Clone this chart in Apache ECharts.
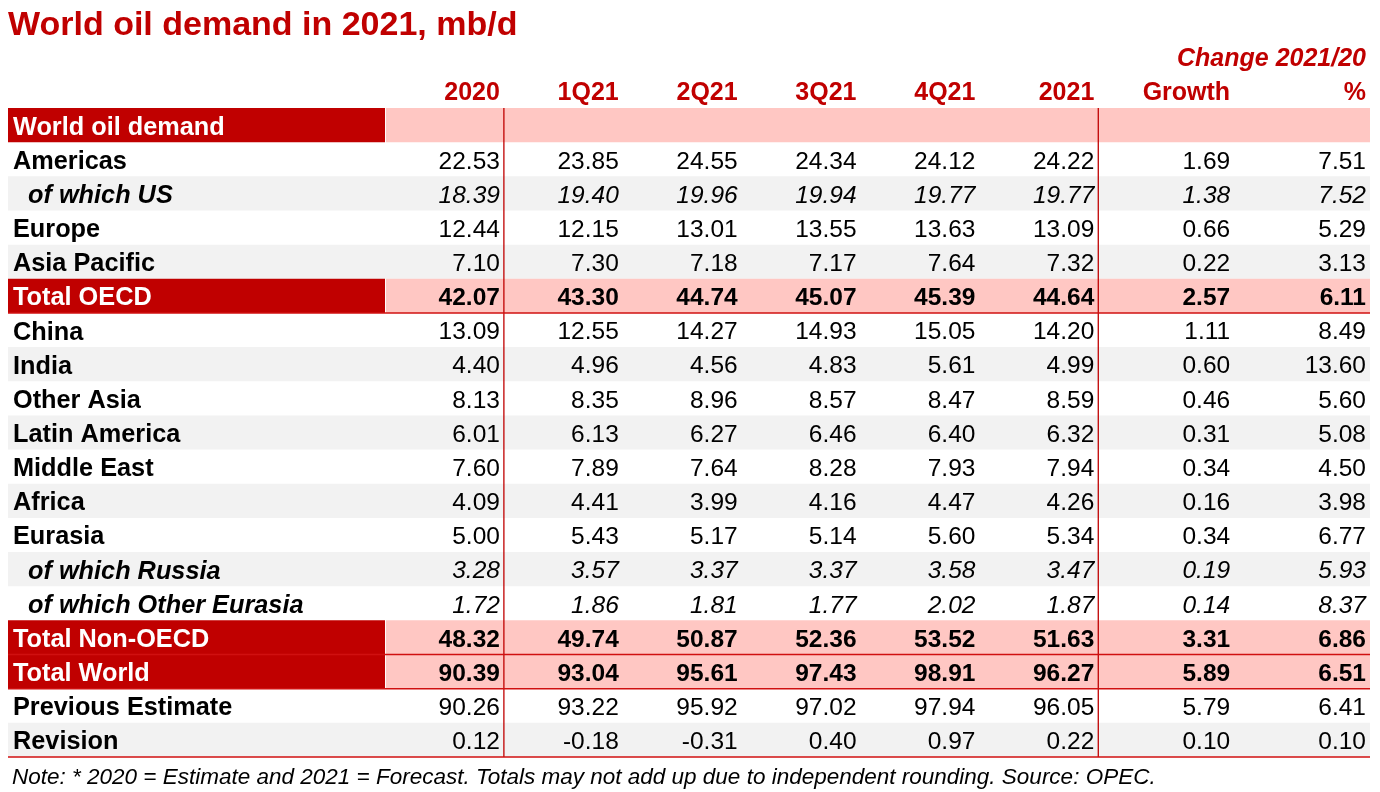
<!DOCTYPE html>
<html><head><meta charset="utf-8">
<script src="https://cdn.jsdelivr.net/npm/echarts@6/dist/echarts.min.js"></script>
<style>html,body{margin:0;padding:0;background:#fff}#chart{width:1380px;height:792px}</style>
</head><body><div id="chart"></div>
<script>
// ---------------- data ----------------
const titleText = 'World oil demand in 2021, mb/d';
const noteText = 'Note: * 2020 = Estimate and 2021 = Forecast. Totals may not add up due to independent rounding. Source: OPEC.';
const changeHeader = 'Change 2021/20';
const columns = ['2020', '1Q21', '2Q21', '3Q21', '4Q21', '2021', 'Growth', '%'];
const rowLabels = ['World oil demand', 'Americas', 'of which US', 'Europe', 'Asia Pacific', 'Total OECD',
  'China', 'India', 'Other Asia', 'Latin America', 'Middle East', 'Africa', 'Eurasia',
  'of which Russia', 'of which Other Eurasia', 'Total Non-OECD', 'Total World', 'Previous Estimate', 'Revision'];
const rowKinds = ['section', 'normal', 'sub', 'normal', 'normal', 'total',
  'normal', 'normal', 'normal', 'normal', 'normal', 'normal', 'normal',
  'sub', 'sub', 'total', 'total', 'normal', 'normal'];
const y2020 = [null, 22.53, 18.39, 12.44, 7.10, 42.07, 13.09, 4.40, 8.13, 6.01, 7.60, 4.09, 5.00, 3.28, 1.72, 48.32, 90.39, 90.26, 0.12];
const q1_21 = [null, 23.85, 19.40, 12.15, 7.30, 43.30, 12.55, 4.96, 8.35, 6.13, 7.89, 4.41, 5.43, 3.57, 1.86, 49.74, 93.04, 93.22, -0.18];
const q2_21 = [null, 24.55, 19.96, 13.01, 7.18, 44.74, 14.27, 4.56, 8.96, 6.27, 7.64, 3.99, 5.17, 3.37, 1.81, 50.87, 95.61, 95.92, -0.31];
const q3_21 = [null, 24.34, 19.94, 13.55, 7.17, 45.07, 14.93, 4.83, 8.57, 6.46, 8.28, 4.16, 5.14, 3.37, 1.77, 52.36, 97.43, 97.02, 0.40];
const q4_21 = [null, 24.12, 19.77, 13.63, 7.64, 45.39, 15.05, 5.61, 8.47, 6.40, 7.93, 4.47, 5.60, 3.58, 2.02, 53.52, 98.91, 97.94, 0.97];
const y2021 = [null, 24.22, 19.77, 13.09, 7.32, 44.64, 14.20, 4.99, 8.59, 6.32, 7.94, 4.26, 5.34, 3.47, 1.87, 51.63, 96.27, 96.05, 0.22];
const growth = [null, 1.69, 1.38, 0.66, 0.22, 2.57, 1.11, 0.60, 0.46, 0.31, 0.34, 0.16, 0.34, 0.19, 0.14, 3.31, 5.89, 5.79, 0.10];
const pctChange = [null, 7.51, 7.52, 5.29, 3.13, 6.11, 8.49, 13.60, 5.60, 5.08, 4.50, 3.98, 6.77, 5.93, 8.37, 6.86, 6.51, 6.41, 0.10];
const columnValues = [y2020, q1_21, q2_21, q3_21, q4_21, y2021, growth, pctChange];

// ---------------- layout ----------------
const LABEL_UNITS = 22.2;
const COL_UNITS = [7, 7, 7, 7, 7, 7, 8, 8];
const colRight = [];
COL_UNITS.reduce((acc, w, i) => { colRight[i] = acc + w; return acc + w; }, 0);
const TOTAL_UNITS = colRight[colRight.length - 1];
const HEADER_ROWS = 2;
const TEXT_DY = 2.5;
const RED = '#c00000';
const PINK = '#ffc7c3';
const GREY = '#f2f2f2';
const FF = '"Liberation Sans", Arial, Helvetica, sans-serif';

// zebra banding restarts after every highlighted (section / total) row
const banded = [];
let runIdx = 0;
rowKinds.forEach((k, i) => {
  if (k === 'section' || k === 'total') { banded[i] = false; runIdx = 0; }
  else { runIdx++; banded[i] = runIdx % 2 === 0; }
});

const cellData = [];
columnValues.forEach((arr, c) => arr.forEach((v, r) => { if (v !== null) cellData.push([c, r, v]); }));

function txt(text, x, y, font, fill, align) {
  return { type: 'text', style: { text, x, y: y + TEXT_DY, font, fill, align, verticalAlign: 'middle', textAlign: align, textVerticalAlign: 'middle' } };
}

const chart = echarts.init(document.getElementById('chart'), null, { renderer: 'canvas' });
chart.setOption({
  animation: false,
  backgroundColor: '#fff',
  title: [
    { text: titleText, left: 8, top: 9, padding: 0,
      textStyle: { fontFamily: FF, fontSize: 34, fontWeight: 'bold', color: RED } },
    { text: noteText, left: 12, top: 766, padding: 0,
      textStyle: { fontFamily: FF, fontSize: 22.5, fontStyle: 'italic', fontWeight: 'normal', color: '#000' } }
  ],
  grid: { left: 8, right: 10, top: 39.7, bottom: 35, containLabel: false },
  xAxis: { type: 'value', min: -LABEL_UNITS, max: TOTAL_UNITS, show: false },
  yAxis: { type: 'value', min: 0, max: rowLabels.length + HEADER_ROWS, inverse: true, show: false },
  series: [
    { // row backgrounds
      type: 'custom', z: 1, silent: true,
      data: rowLabels.map((_, i) => [i]),
      renderItem(params, api) {
        const i = api.value(0);
        const r = i + HEADER_ROWS;
        const p0 = api.coord([-LABEL_UNITS, r]);
        const pm = api.coord([0, r + 1]);
        const p1 = api.coord([TOTAL_UNITS, r + 1]);
        const kind = rowKinds[i];
        const children = [];
        if (kind === 'section' || kind === 'total') {
          children.push({ type: 'rect', shape: { x: p0[0], y: p0[1], width: pm[0] - p0[0], height: pm[1] - p0[1] }, style: { fill: RED } });
          children.push({ type: 'rect', shape: { x: pm[0] + 1, y: p0[1], width: p1[0] - pm[0] - 1, height: p1[1] - p0[1] }, style: { fill: PINK } });
        } else if (banded[i]) {
          children.push({ type: 'rect', shape: { x: p0[0], y: p0[1], width: p1[0] - p0[0], height: p1[1] - p0[1] }, style: { fill: GREY } });
        }
        return { type: 'group', children };
      }
    },
    { // rule lines
      type: 'custom', z: 3, silent: true,
      data: [[0]],
      renderItem(params, api) {
        const children = [];
        const top = HEADER_ROWS, bottom = HEADER_ROWS + rowLabels.length;
        [colRight[0], colRight[5]].forEach(u => {
          const a = api.coord([u, top]), b = api.coord([u, bottom]);
          children.push({ type: 'line', shape: { x1: a[0], y1: a[1], x2: b[0], y2: b[1] }, style: { stroke: RED, lineWidth: 1.3 } });
        });
        const hRows = [];
        rowKinds.forEach((k, i) => { if (k === 'total') hRows.push(i + 1 + HEADER_ROWS); });
        hRows.push(bottom);
        hRows.forEach(r => {
          const a = api.coord([-LABEL_UNITS, r]), b = api.coord([TOTAL_UNITS, r]);
          children.push({ type: 'line', shape: { x1: a[0], y1: a[1], x2: b[0], y2: b[1] }, style: { stroke: '#d01010', lineWidth: 1.6 } });
        });
        return { type: 'group', children };
      }
    },
    { // row labels
      type: 'custom', z: 4, silent: true,
      data: rowLabels.map((_, i) => [i]),
      renderItem(params, api) {
        const i = api.value(0);
        const p = api.coord([-LABEL_UNITS, i + HEADER_ROWS + 0.5]);
        const kind = rowKinds[i];
        const white = kind === 'section' || kind === 'total';
        const font = (kind === 'sub' ? 'italic ' : '') + 'bold 25.3px ' + FF;
        return txt(rowLabels[i], p[0] + (kind === 'sub' ? 20 : 5), p[1], font, white ? '#fff' : '#000', 'left');
      }
    },
    { // column headers
      type: 'custom', z: 4, silent: true,
      data: columns.map((_, c) => [c]),
      renderItem(params, api) {
        const c = api.value(0);
        const p = api.coord([colRight[c], 1.5]);
        const children = [txt(columns[c], p[0] - 4, p[1], 'bold 25px ' + FF, RED, 'right')];
        if (c === columns.length - 1) {
          const q = api.coord([colRight[c], 0.5]);
          children.push(txt(changeHeader, q[0] - 4, q[1], 'italic bold 25px ' + FF, RED, 'right'));
        }
        return { type: 'group', children };
      }
    },
    { // values
      type: 'custom', z: 4, silent: true,
      data: cellData,
      renderItem(params, api) {
        const c = api.value(0), r = api.value(1), v = api.value(2);
        const p = api.coord([colRight[c], r + HEADER_ROWS + 0.5]);
        const kind = rowKinds[r];
        const font = (kind === 'sub' ? 'italic ' : '') + (kind === 'total' ? 'bold ' : '') + '24.5px ' + FF;
        return txt(v.toFixed(2), p[0] - 4, p[1], font, '#000', 'right');
      }
    }
  ]
});
</script></body></html>
